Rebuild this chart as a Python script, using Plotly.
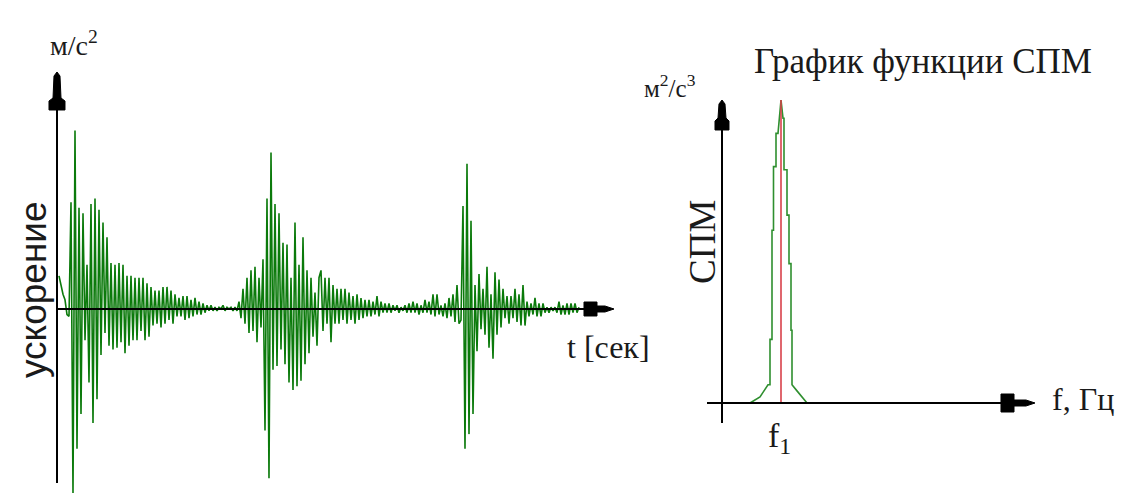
import plotly.graph_objects as go

# ---------------- data ----------------
# acceleration samples (м/с²), one every sample step
signal_values = [
    18, 12, 8, 5, -3, -4, 58, -100, 97, -76, 55, -57, 52, -17, 24, -40, 57, -62,
    60, -49, 54, -25, 47, -13, 39, -20, 25, -22, 24, -21, 25, -18, 24, -24, 18, -20,
    18, -17, 17, -17, 17, -12, 17, -17, 14, -15, 12, -9, 10, -8, 10, -10, 12, -8,
    12, -6, 10, -8, 8, -4, 6, -4, 7, -6, 7, -5,
    5, -4, 6, -3, 4, -3, 3, -2, 2, -1, 2, -1, 1, -1, 1, 0, 2, -1, 1, 0, 1, -1, 1, -1,
    4, -5, 11, -8, 17,
    -13, 21, -12, 23, -18, 17, -10, 27, -66, 60, -92, 85, -33, 57, -31, 52, -22, 36,
    -30, 35, -40, 17, -44, 47, -42, 24, -39, 39, -30, 21, -24, 17, -15, 9, -20, 17,
    21, -12, 17, -8, 17, -18, 13, -8, 11, -8, 11, -6, 11, -8, 9, -6, 7, -8, 8, -6,
    6, -5, 5, -4, 5, -4, 4, -3, 7, -4, 4, -2, 3, -2, 3, -2, 2, -1, 2, -2,
    1, -1, 2, -2, 3, -2, 4, -2, 3, -3, 2, -2, 5, -2, 4, -3, 8, -4, 8, -3, 2, -4, 3, -5, 6,
    -4, 8, -7, 13, -8, -6, 56, -76, 79, -68, 48, -57, 13, -23, 19, -11, 11, -14, 23, -21,
    8, -27, 20, -14, 16, -10, 11, -5, 7, -8, 7, -5, 11, -7, 8, -9, 13, -9, 4, -4,
    3, -3, 6, -4, 3, -4, 3, -2, 1, -2, 1, -1, 1, -2, 4, -3, 2, -3, 3, -3, 3, -2, 3, -2, 1,
]
signal_t = list(range(len(signal_values)))

# power spectral density outline (green staircase)
psd_f = [14, 19, 23, 24, 24, 25, 25, 25.75, 25.75, 27, 27, 28, 29.5,
         30.5, 31, 31, 32.5, 32.5, 33.5, 33.5, 34.5, 34.5, 35, 35, 37.5, 42.5]
psd_val = [0, 2, 6, 6, 21, 21, 57, 57, 78, 78, 89, 89, 100,
           94, 94, 77, 77, 62, 62, 46, 46, 24, 24, 6, 4, 0]
# central frequency f1 marker (red)
f1_x = [29.5, 29.5]
f1_y = [0, 100]

# ---------------- geometry helpers ----------------
W, H = 1121, 493


def px(x):
    return x / W


def py(y):
    return 1 - y / H


def poly(points):
    s = "M " + " L ".join(f"{px(x):.5f},{py(y):.5f}" for x, y in points) + " Z"
    return s


fig = go.Figure()

fig.add_trace(go.Scatter(
    x=signal_t, y=signal_values, mode="lines",
    line=dict(color="#0b7a0b", width=1.6),
    xaxis="x", yaxis="y", hoverinfo="skip", showlegend=False))

fig.add_trace(go.Scatter(
    x=psd_f, y=psd_val, mode="lines",
    line=dict(color="#2f8f2f", width=1.6),
    xaxis="x2", yaxis="y2", hoverinfo="skip", showlegend=False))

fig.add_trace(go.Scatter(
    x=f1_x, y=f1_y, mode="lines",
    line=dict(color="#d8404a", width=1.6),
    xaxis="x2", yaxis="y2", hoverinfo="skip", showlegend=False))

axis_common = dict(visible=False, showgrid=False, zeroline=False, fixedrange=True)

fig.update_layout(
    width=W, height=H,
    margin=dict(l=0, r=0, t=0, b=0),
    paper_bgcolor="white", plot_bgcolor="white",
    xaxis=dict(domain=[px(57), px(613)], range=[-1, 277], **axis_common),
    yaxis=dict(domain=[0, py(125)], range=[-100, 100], **axis_common),
    xaxis2=dict(domain=[px(707), px(1035)], range=[-7.5, 156.5], anchor="y2", **axis_common),
    yaxis2=dict(domain=[py(433), py(100)], range=[-9.9, 100], anchor="x2", **axis_common),
)

line_style = dict(color="black", width=2)
shapes = [
    # left panel axes
    dict(type="line", xref="paper", yref="paper", x0=px(57), y0=py(483), x1=px(57), y1=py(100), line=line_style),
    dict(type="line", xref="paper", yref="paper", x0=px(57), y0=py(309), x1=px(590), y1=py(309), line=line_style),
    dict(type="path", xref="paper", yref="paper", fillcolor="black", line=dict(color="black", width=1),
         path=poly([(57, 72), (60, 76), (61, 98), (65, 101), (65, 110), (49, 110), (49, 101), (53, 98), (54, 76)])),
    dict(type="path", xref="paper", yref="paper", fillcolor="black", line=dict(color="black", width=1),
         path=poly([(614, 309), (605, 306), (597, 306), (597, 302), (584, 302), (584, 316), (597, 316), (597, 312), (605, 312)])),
    # right panel axes
    dict(type="line", xref="paper", yref="paper", x0=px(722), y0=py(423), x1=px(722), y1=py(125), line=line_style),
    dict(type="line", xref="paper", yref="paper", x0=px(707), y0=py(403), x1=px(1005), y1=py(403), line=line_style),
    dict(type="path", xref="paper", yref="paper", fillcolor="black", line=dict(color="black", width=1),
         path=poly([(722, 100), (725, 104), (726, 118), (729, 121), (729, 130), (715, 130), (715, 121), (718, 118), (719, 104)])),
    dict(type="path", xref="paper", yref="paper", fillcolor="black", line=dict(color="black", width=1),
         path=poly([(1035, 403), (1026, 400), (1014, 400), (1014, 394), (1001, 394), (1001, 412), (1014, 412), (1014, 406), (1026, 406)])),
]
fig.update_layout(shapes=shapes)

serif = "Liberation Serif"
sans = "Liberation Sans"
txt = "#1a1a1a"


def label(text, x, y, size, family, angle=0, xanchor="center"):
    return dict(text=text, x=px(x), y=py(y), xref="paper", yref="paper",
                xanchor=xanchor, yanchor="middle", showarrow=False, textangle=angle,
                font=dict(family=family, size=size, color=txt))


fig.update_layout(annotations=[
    label("м/с<sup>2</sup>", 48, 44, 28, serif, xanchor="left"),
    label("ускорение", 33, 290, 37, sans, -90),
    label("t [сек]", 608, 347, 32, serif),
    label("График функции СПМ", 923, 62, 35, serif),
    label("м<sup>2</sup>/с<sup>3</sup>", 642, 86, 25, serif, xanchor="left"),
    label("СПМ", 702, 242, 37, serif, -90),
    label("f, Гц", 1116, 399, 32, serif, xanchor="right"),
    label("f<sub>1</sub>", 779, 438, 34, serif),
])

fig.write_html(
    "out.html",
    config={"displayModeBar": False, "staticPlot": True},
    post_script="document.body.style.margin='0';document.body.style.overflow='hidden';",
)
